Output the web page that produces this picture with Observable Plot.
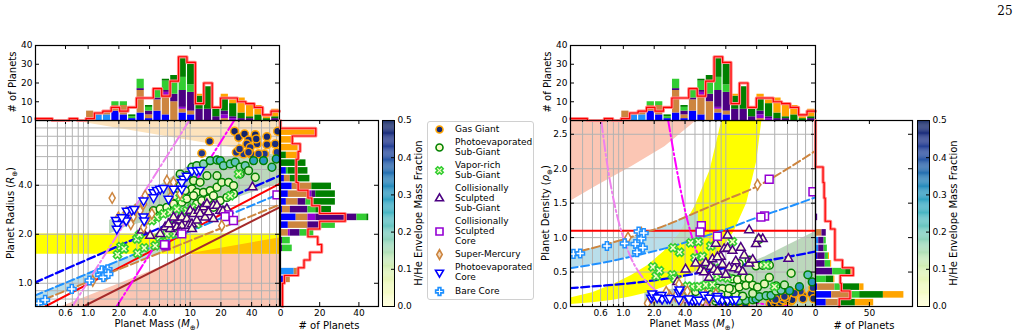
<!DOCTYPE html>
<html><head><meta charset="utf-8">
<script src="https://cdn.jsdelivr.net/npm/d3@7"></script>
<script src="https://cdn.jsdelivr.net/npm/@observablehq/plot@0.6"></script>
<style>
html,body{margin:0;padding:0;background:#fff;}
#root{position:relative;width:1028px;height:336px;overflow:hidden;font-family:"DejaVu Sans",sans-serif;font-size:9px;color:#000;}
#root svg{position:absolute;}
.t{position:absolute;white-space:nowrap;line-height:10px;font-size:9px;}
.big{font-size:10px;}
.rot{transform:translate(-50%,-50%) rotate(-90deg);}
.ctr{transform:translate(-50%,-50%);}
#legend{position:absolute;left:427px;top:121px;width:107px;height:179px;border:1px solid #d0d0d0;border-radius:3px;box-sizing:border-box;background:#fff;}
</style></head><body><div id="root"><div id="legend"></div></div>
<script>
// ---------------- data ----------------
const massDomain = [0.305, 75];
const radiusDomain = [0.72, 10];
const densityDomain = [0, 2.7];
const massTicks = [0.6, 1, 2, 4, 10, 20, 40];
const massTickLabels = ["0.6", "1.0", "2.0", "4.0", "10", "20", "40"];
const radiusTicks = [1, 2, 4, 10];
const radiusTickLabels = ["1.0", "2.0", "4.0", "10"];
const densityTicks = [0, 0.5, 1, 1.5, 2, 2.5];
const densityTickLabels = ["0.0", "0.5", "1.0", "1.5", "2.0", "2.5"];
const massGrid = [0.4,0.5,0.6,0.7,0.8,0.9,1,2,3,4,5,6,7,8,9,10,20,30,40,50,60,70];
const radiusGrid = [0.8,0.9,1,2,3,4,5,6,7,8,9,10];
const countTicksTop = [0, 10, 20, 30, 40];
const countTicksRad = [0, 20, 40];
const countTicksDen = [0, 50];
const fracTicks = [0, 0.1, 0.2, 0.3, 0.4, 0.5];

const categories = ["Gas Giant","Photoevaporated Sub-Giant","Vapor-rich Sub-Giant","Collisionally Sculpted Sub-Giant","Collisionally Sculpted Core","Super-Mercury","Photoevaporated Core","Bare Core"];
const legendLabels = ["Gas Giant","Photoevaporated\nSub-Giant","Vapor-rich\nSub-Giant","Collisionally\nSculpted\nSub-Giant","Collisionally\nSculpted\nCore","Super-Mercury","Photoevaporated\nCore","Bare Core"];
const categoryColors = ["#ffa500","#008000","#32cd32","#4b0082","#9400d3","#cd853f","#0000ff","#1e90ff"];
const stackOrder = ["Photoevaporated Core","Bare Core","Super-Mercury","Collisionally Sculpted Core","Collisionally Sculpted Sub-Giant","Vapor-rich Sub-Giant","Photoevaporated Sub-Giant","Gas Giant"];

// mass histogram (29 log bins across the mass axis)
const massHistPC   = [0,0,0,0,0,0,0,0,0,5,3,1,4,1,5,3,0,4,3,0,0,0,0,0,0,0,0,0,0];
const massHistBC   = [0,0,0,0,0,0,0,3,3,0,0,0,0,0,0,0,0,0,0,0,0,0,0,0,0,0,0,0,0];
const massHistSM   = [0,0,0,0,0,0,5,1,2,3,5,0,12,2,6,10,10,2,2,0,0,0,1,0,0,0,0,0,0];
const massHistCSC  = [0,0,0,0,0,0,0,0,0,0,0,0,0,0,0,2,0,1,0,0,0,0,2,1,0,0,0,0,0];
const massHistCSSG = [0,0,0,0,0,0,0,0,0,0,0,0,1,2,1,1,4,9,10,6,6,2,2,1,1,1,0,0,1];
const massHistVR   = [0,0,0,0,0,0,0,0,0,2,2,1,5,2,4,5,7,7,4,0,0,0,0,0,0,0,0,0,0];
const massHistPSG  = [0,0,0,0,0,0,0,0,0,0,0,1,0,1,1,1,3,10,11,7,12,5,7,7,3,1,3,1,1];
const massHistGG   = [0,0,0,0,0,0,0,0,0,0,0,0,0,0,0,0,0,1,1,1,0,0,2,2,8,6,5,1,4];
const massHistObserved = [1,1,0,0,1,0,1,4,5,7,5,7,12,12,17,13,21,34,31,9,20,7,12,12,10,9,7,3,5];

// radius histogram (24 log bins, listed from the top of the axis)
const radHistPC   = [0,0,0,0,0,0,3,2,6,4,3,1,8,4,0,0,0,0,0,0,2,0,0,0];
const radHistBC   = [0,0,0,0,0,0,0,0,0,0,0,0,0,0,0,0,0,0,0,7,0,0,0,0];
const radHistSM   = [0,0,0,0,0,0,0,3,10,10,6,4,6,10,4,0,0,0,0,2,3,0,0,0];
const radHistCSC  = [0,0,0,0,0,0,0,0,0,2,0,0,4,0,1,0,0,0,0,0,0,0,0,0];
const radHistCSSG = [0,0,0,0,0,0,0,0,0,2,4,9,21,7,5,1,1,0,0,0,0,0,0,0];
const radHistVR   = [0,0,0,0,0,0,1,0,0,0,4,4,5,7,7,4,5,0,0,0,0,0,0,0];
const radHistPSG  = [0,0,0,0,3,13,10,10,10,10,11,8,1,0,0,0,0,0,0,0,0,0,0,0];
const radHistGG   = [0,18,7,9,7,0,0,0,0,0,0,0,0,0,0,0,0,0,0,0,0,0,0,0];
const radHistObserved = [0,18,6,10,9,8,8,8,9,14,16,20,33,20,14,19,21,15,12,9,2,1,1,1];

// density histogram (24 bins, listed from the bottom of the axis)
const denHistPC   = [10,15,2,1,0,1,2,0,0,0,0,0,0,0,0,0,0,0,0,0,0,0,0,0];
const denHistBC   = [0,0,0,0,0,0,0,3,3,0,0,0,0,0,0,0,0,0,0,0,0,0,0,0];
const denHistSM   = [11,19,16,0,0,0,0,0,0,6,0,0,0,0,0,0,0,0,0,0,0,0,0,0];
const denHistCSC  = [0,0,0,0,0,0,0,0,0,0,0,0,0,0,0,0,0,0,0,0,0,0,0,0];
const denHistCSSG = [0,0,0,0,16,8,7,5,5,4,0,2,0,0,0,0,0,0,0,0,0,0,0,0];
const denHistVR   = [3,7,5,9,12,5,3,3,2,0,0,0,0,0,0,0,0,0,0,0,0,0,0,0];
const denHistPSG  = [13,22,18,7,5,0,0,0,0,0,0,0,0,0,0,0,0,0,0,0,0,0,0,0];
const denHistGG   = [17,19,4,1,1,1,1,0,0,0,0,0,0,0,0,0,0,0,0,0,0,0,0,0];
const denHistObserved = [22,32,24,23,35,25,18,18,18,18,14,9,9,9,8,8,7,7,0,0,0,0,0,0];

// planets: [mass (M_earth), radius (R_earth), H/He envelope mass fraction]
const gasGiants = [[15.5,7.45,.46],[13.0,6.29,.44],[27.2,8.59,.48],[29.8,7.88,.47],[34.1,8.26,.48],[37.3,7.59,.46],[43.4,8.19,.48],[45.1,7.18,.46],[44.4,7.71,.47],[35.9,7.18,.45],[38.7,6.84,.45],[39.3,6.23,.44],[33.3,6.23,.44],[37.3,6.38,.45],[56.5,7.11,.46],[68.1,7.18,.46],[71.8,8.59,.48],[56.5,7.96,.47],[53.5,6.23,.44],[70.8,6.38,.44],[46.8,6.23,.44],[28.3,6.38,.45],[30.5,6.69,.45]];
const photoSubGiants = [[7.98,4.69,.12],[9.27,4.58,.1],[10.4,5.16,.15],[11.6,5.28,.15],[13.5,5.41,.18],[15.7,5.67,.2],[18.3,5.72,.22],[19.7,5.67,.25],[21.2,5.28,.2],[24.7,5.41,.2],[27.6,5.54,.22],[30.9,5.16,.15],[34.6,5.28,.2],[41.8,5.67,.28],[52.3,5.67,.3],[63.2,5.16,.22],[69.7,5.8,.3],[10.8,4.27,.08],[12.5,4.17,.06],[14.6,4.58,.1],[18.3,4.58,.1],[10.4,3.8,.05],[11.6,3.62,.04],[13.5,3.62,.05],[15.7,3.71,.06],[18.3,3.89,.06],[20.4,4.17,.08],[23.8,4.17,.07],[26.6,3.98,.06],[30.9,4.69,.1],[37.3,4.92,.12],[43.4,4.48,.08],[11.6,3.07,.02],[13.0,3.22,.02],[15.1,3.3,.03],[16.9,3.45,.03],[19.7,3.22,.02],[22.9,3.37,.03],[26.6,3.54,.04],[4.37,2.79,.03],[5.08,2.86,.03],[5.91,2.93,.03],[6.86,3.07,.03],[8.28,3.15,.03],[9.27,3.3,.04],[10.8,3.45,.04],[7.98,3.98,.06],[8.93,3.71,.05],[7.13,3.45,.04],[13.5,2.79,.02],[16.9,2.93,.02],[21.2,2.79,.02]];
const vaporRich = [[1.94,1.5,.03],[2.09,1.68,.03],[2.25,1.63,.03],[3.0,1.87,.03],[3.19,1.99,.03],[3.54,1.65,.03],[3.05,1.53,.03],[4.54,1.7,.03],[5.0,1.92,.03],[5.4,1.79,.03],[5.91,2.01,.03],[6.37,2.21,.03],[6.86,2.26,.03],[7.98,2.43,.03],[8.28,2.67,.03],[9.27,2.79,.03],[10.4,2.93,.03],[11.6,2.31,.03],[4.71,2.54,.03],[5.48,2.67,.03],[6.37,2.73,.03],[7.4,2.86,.03],[4.21,2.43,.03],[7.13,2.01,.03],[24.7,3.45,.04],[29.8,4.69,.05],[7.98,3.37,.03]];
const collSubGiants = [[3.36,2.11,.01],[4.05,1.96,.01],[5.08,2.01,.01],[5.69,2.21,.01],[6.37,2.16,.01],[7.13,2.31,.01],[7.69,2.43,.01],[8.28,2.54,.01],[8.93,2.31,.01],[9.27,2.48,.01],[10.0,2.79,.01],[10.8,2.67,.01],[12.1,2.79,.01],[13.5,2.93,.01],[14.6,3.07,.01],[16.9,3.0,.01],[18.3,3.0,.01],[7.4,2.21,.01],[8.28,2.26,.01],[9.63,2.26,.01],[10.4,2.31,.01],[11.6,2.43,.01],[12.5,2.67,.01],[14.0,2.54,.01],[15.1,2.73,.01],[16.9,2.48,.01],[19.7,2.79,.01],[22.9,2.86,.01],[20.9,2.77,.01],[40.8,3.89,.01],[6.86,2.54,.01],[6.13,2.31,.01],[10.4,2.16,.01],[7.98,2.06,.01]];
const collCores = [[5.77,1.7],[5.6,1.73],[8.28,2.01],[23.9,2.63],[22.0,2.57],[26.5,2.43],[70.8,3.49]];
const superMercury = [[1.72,3.34],[2.36,2.73],[2.78,2.57],[2.62,2.31],[2.89,2.82],[3.49,3.07],[6.61,3.8],[6.86,4.17],[5.91,4.27],[7.98,3.54],[3.23,2.79],[3.76,2.48],[4.21,2.67],[20.4,2.26],[1.98,2.54],[3.49,2.21],[3.62,3.45],[6.37,3.37],[1.11,1.035],[1.5,1.12]];
const photoCores = [[1.87,2.45],[1.94,2.31],[1.91,2.16],[2.27,2.52],[2.36,2.43],[2.39,2.79],[2.68,2.82],[3.49,2.57],[3.54,2.43],[4.37,3.62],[4.71,3.74],[5.08,3.8],[5.48,3.85],[6.13,3.3],[8.28,3.8],[8.6,4.38],[9.27,4.58],[10.4,4.92],[11.6,4.92],[12.5,4.97],[3.49,3.22],[4.37,3.37],[8.28,4.17],[6.86,3.8],[2.14,2.54],[2.83,2.86]];
const bareCores = [[0.326,0.753],[0.379,0.79],[0.691,0.923],[1.03,1.04],[1.31,1.13],[1.36,1.2],[1.55,1.22],[1.5,1.15],[1.41,1.09],[1.58,1.14]];

// model curves / regions: [mass, radius]
const blueDashedMR = [[0.3,1.01],[75,4.58]];
const dodgerDashedMR = [[0.3,0.84],[75,3.54]];
const peruDashedMR = [[0.3,0.754],[75,3.04]];
const redSolidMR = [[0.38,0.72],[75,4.08]];
const brownSolidMR = [[0.9,0.72],[75,2.93]];
const violetDashDotMR = [[0.7,0.72],[9.8,10]];
const magentaDashDotMR = [[1.9,0.72],[27,10]];
const wheatMass = [0.69, 75], wheatLow = [10, 6.09], wheatHigh = [10, 10];
const salmonMass = [0.556, 10.8, 75], salmonLow = [0.72, 0.72, 0.72], salmonHigh = [0.72, 1.51, 1.51];
const yellowMass = [0.3, 75], yellowLow = [1.51, 1.51], yellowHigh = [2.01, 2.01];
const goldMass = [9.27, 75], goldLow = [1.51, 1.51], goldHigh = [1.51, 1.9];
const lightBlueMass = [0.3, 5.4], lightBlueLow = [0.754, 1.56], lightBlueHigh = [0.84, 1.78];
const greenMass = [1.62, 2.5, 5.4, 9.27, 11.4, 24, 75], greenLow = [2.01, 2.25, 2.51, 2.68, 2.78, 3.22, 4.1], greenHigh = [2.43, 2.85, 4.1, 5.16, 5.5, 6.0, 6.23];

// model curves / regions
const curveMass = [0.3, 0.6, 1.2, 2.5, 5.4, 10, 20, 40, 75];
const blueDashedRho = [0.267, 0.3, 0.339, 0.4, 0.484, 0.56, 0.64, 0.72, 0.797];
const dodgerDashedRho = [0.556, 0.63, 0.725, 0.84, 0.99, 1.12, 1.29, 1.44, 1.585];
const peruDashedRho = [0.764, 0.88, 1.01, 1.17, 1.38, 1.55, 1.74, 2.0, 2.26];
const redSolidRho = [1.1];
const violetMass = [0.61, 0.7, 0.8, 0.9, 1.0, 1.2, 1.4, 1.7, 2.0, 2.5, 3, 4, 6, 10, 20];
const violetRho = [2.69, 2.04, 1.56, 1.23, 1.0, 0.69, 0.51, 0.35, 0.25, 0.16, 0.11, 0.06, 0.03, 0.01, 0.003];
const magentaMass = [2.74, 3.19, 3.99, 5.0, 6.76, 11.5, 20, 40];
const magentaRho = [2.7, 2.13, 1.4, 0.87, 0.46, 0.15, 0.05, 0.013];
const salmonRhoMass = [0.3, 0.565, 1.2, 2.54, 5.2], salmonRhoLow = [1.52, 1.76, 2.03, 2.32, 2.7];
const yellowRhoMass = [0.3, 0.5, 0.8, 1.2, 1.75, 2.5, 3.5, 5, 7, 9.15, 12, 16, 20, 22.5];
const yellowRhoLow = [0.03, 0.055, 0.09, 0.14, 0.2, 0.28, 0.38, 0.5, 0.64, 0.82, 1.08, 1.5, 2.1, 2.7];
const yellowRhoHigh = [0.12, 0.2, 0.32, 0.45, 0.6, 0.8, 1.05, 1.45, 1.97, 2.7, 2.7, 2.7, 2.7, 2.7];
const lightBlueRhoMass = [0.3, 0.6, 1.2, 2.5, 5.4];
const lightBlueRhoLow = [0.556, 0.63, 0.725, 0.84, 0.99];
const lightBlueRhoHigh = [0.764, 0.88, 1.01, 1.17, 1.38];
const greenRhoMass = [1.62, 2.5, 5.4, 11.4, 24, 75], greenRhoLow = [0, 0, 0, 0, 0, 0], greenRhoHigh = [0.2, 0.22, 0.34, 0.53, 0.72, 1.09];
const wheatRhoMass = [10, 20, 40, 75], wheatRhoLow = [0.01, 0.02, 0.04, 0.075], wheatRhoHigh = [0.04, 0.08, 0.17, 0.33];

// ---------------- helpers ----------------
const root = document.getElementById("root");
const plotStyle = {overflow: "visible", background: "transparent", fontFamily: "'DejaVu Sans', sans-serif", fontSize: "9px", color: "#000"};
const ylgnbu = d3.scaleSequential(d3.interpolateYlGnBu).domain([0, 0.5]);
function put(svg, left, top) { svg.style.position = "absolute"; svg.style.left = left + "px"; svg.style.top = top + "px"; root.appendChild(svg); }
function label(text, x, y, cls, extra) { const d = document.createElement("div"); d.className = "t " + cls; d.style.left = x + "px"; d.style.top = y + "px"; d.innerHTML = text; if (extra) Object.assign(d.style, extra); root.appendChild(d); return d; }
const zip = (xs, lo, hi) => xs.map((x, i) => ({x, lo: lo[i], hi: hi[i]}));
const pairs = (xs, ys) => xs.map((x, i) => [x, ys[i]]);
const tickRows = (ticks, labels) => ticks.map((v, i) => ({v, label: labels[i]}));

function polySym(pts) { return {draw(ctx, size) { const r = Math.sqrt(size / Math.PI); pts.forEach(([x, y], i) => i ? ctx.lineTo(x * r, y * r) : ctx.moveTo(x * r, y * r)); ctx.closePath(); }}; }
const symTriUp = polySym([[0,-1.35],[1.17,0.67],[-1.17,0.67]]);
const symTriDown = polySym([[0,1.35],[1.17,-0.67],[-1.17,-0.67]]);
const symThinDiamond = polySym([[0,-1.4],[0.8,0],[0,1.4],[-0.8,0]]);
const pw = 0.42, pa = 1.2;
const plusShape = [[-pw,-pa],[pw,-pa],[pw,-pw],[pa,-pw],[pa,pw],[pw,pw],[pw,pa],[-pw,pa],[-pw,pw],[-pa,pw],[-pa,-pw],[-pw,-pw]];
const symPlus = polySym(plusShape);
const symX = polySym(plusShape.map(([x, y]) => [(x - y) * Math.SQRT1_2, (x + y) * Math.SQRT1_2]));

const scatterSets = [
  {data: gasGiants, symbol: "circle", r: 3.9, stroke: categoryColors[0], legendFill: ylgnbu(0.47)},
  {data: photoSubGiants, symbol: "circle", r: 3.9, stroke: categoryColors[1], legendFill: ylgnbu(0.03)},
  {data: vaporRich, symbol: symX, r: 3.6, stroke: categoryColors[2], legendFill: ylgnbu(0.03)},
  {data: collSubGiants, symbol: symTriUp, r: 3.8, stroke: categoryColors[3], legendFill: "white"},
  {data: collCores, symbol: "square", r: 4.4, stroke: categoryColors[4], fill: "white", legendFill: "white"},
  {data: superMercury, symbol: symThinDiamond, r: 3.8, stroke: categoryColors[5], fill: "white", legendFill: "#f0d9c0"},
  {data: photoCores, symbol: symTriDown, r: 3.8, stroke: categoryColors[6], fill: "white", legendFill: "white"},
  {data: bareCores, symbol: symPlus, r: 3.6, stroke: categoryColors[7], fill: "white", legendFill: "white"}
];

function stackRows(arrays, nBins) {
  const rows = [];
  for (let i = 0; i < nBins; i++) stackOrder.forEach((cat, k) => rows.push({i, cat, n: arrays[k][i]}));
  return rows;
}
const massBins = massHistObserved.length;
const massEdges = d3.range(massBins + 1).map(i => massDomain[0] * Math.pow(massDomain[1] / massDomain[0], i / massBins));
const radBins = radHistObserved.length;
const radEdges = d3.range(radBins + 1).map(i => radiusDomain[1] * Math.pow(radiusDomain[0] / radiusDomain[1], i / radBins));
const denBins = denHistObserved.length;
const denEdges = d3.range(denBins + 1).map(i => densityDomain[0] + (densityDomain[1] - densityDomain[0]) * i / denBins);

const massRows = stackRows([massHistPC, massHistBC, massHistSM, massHistCSC, massHistCSSG, massHistVR, massHistPSG, massHistGG], massBins);
const radRows = stackRows([radHistPC, radHistBC, radHistSM, radHistCSC, radHistCSSG, radHistVR, radHistPSG, radHistGG], radBins);
const denRows = stackRows([denHistPC, denHistBC, denHistSM, denHistCSC, denHistCSSG, denHistVR, denHistPSG, denHistGG], denBins);
const stepH = (edges, counts) => counts.flatMap((c, i) => [[edges[i], c], [edges[i + 1], c]]);
const stepV = (edges, counts) => counts.flatMap((c, i) => [[c, edges[i]], [c, edges[i + 1]]]);
const stackColor = {domain: stackOrder, range: stackOrder.map(c => categoryColors[categories.indexOf(c)])};

const grid = {stroke: "#b3b3b3", strokeOpacity: 1, strokeWidth: 1};
const FH = 186; // frame height of the main panels

// inward tick marks and tick labels drawn with tick/text marks
function xTicksIn(values, frameH, len = 4) {
  return [Plot.tickX(values, {x: d => d, insetTop: frameH - len, stroke: "black"}), Plot.tickX(values, {x: d => d, insetBottom: frameH - len, stroke: "black"})];
}
function yTicksIn(values, frameW, len = 4) {
  return [Plot.tickY(values, {y: d => d, insetRight: frameW - len, stroke: "black"}), Plot.tickY(values, {y: d => d, insetLeft: frameW - len, stroke: "black"})];
}
const xLabels = rows => Plot.text(rows, {x: "v", text: "label", frameAnchor: "bottom", dy: 3, lineAnchor: "top", fontSize: 9, fill: "black"});
const yLabels = rows => Plot.text(rows, {y: "v", text: "label", frameAnchor: "left", dx: -3, textAnchor: "end", fontSize: 9, fill: "black"});

// ---------------- main panels ----------------
function mainPanel(cfg) {
  return Plot.plot({
    width: 35 + cfg.w + 6, height: 6 + FH + 24,
    marginLeft: 35, marginRight: 6, marginTop: 6, marginBottom: 24,
    style: plotStyle,
    x: {type: "log", domain: massDomain, axis: null},
    y: {...cfg.y, axis: null},
    color: {type: "linear", scheme: "YlGnBu", domain: [0, 0.5]},
    marks: [
      ...cfg.areas,
      Plot.gridX(massGrid, grid),
      Plot.gridY(cfg.yGrid, grid),
      ...cfg.lines,
      ...scatterSets.map(s => Plot.dot(s.data, {x: d => d[0], y: cfg.yOf, symbol: s.symbol, r: s.r, fill: s.fill ?? (d => d[2]), stroke: s.stroke, strokeWidth: 1.5, clip: true})),
      Plot.frame({stroke: "black", strokeWidth: 1.2}),
      ...xTicksIn(massTicks, FH),
      ...xTicksIn(massGrid.filter(v => !massTicks.includes(v)), FH, 2),
      ...yTicksIn(cfg.yTicks, cfg.w),
      xLabels(tickRows(massTicks, massTickLabels)),
      yLabels(tickRows(cfg.yTicks, cfg.yTickLabels))
    ]
  });
}
const dash = "8,3.5", dashDot = "11,3,2,3";
const areaMark = (d, fill, op = 1) => Plot.areaY(d, {x: "x", y1: "lo", y2: "hi", fill, fillOpacity: op, clip: true});
const lineMark = (d, stroke, extra = {}) => Plot.line(d, {x: p => p[0], y: p => p[1], stroke, strokeWidth: 2, clip: true, ...extra});

const leftMain = mainPanel({
  w: 244,
  y: {type: "log", domain: radiusDomain},
  yOf: d => d[1],
  yGrid: radiusGrid, yTicks: radiusTicks, yTickLabels: radiusTickLabels,
  areas: [
    areaMark(zip(wheatMass, wheatLow, wheatHigh), "#fde3bd"),
    areaMark(zip(salmonMass, salmonLow, salmonHigh), "#fbc6b4"),
    areaMark(zip(yellowMass, yellowLow, yellowHigh), "#ffff00"),
    areaMark(zip(goldMass, goldLow, goldHigh), "#ffc000"),
    areaMark(zip(lightBlueMass, lightBlueLow, lightBlueHigh), "#add8e6", 0.85),
    areaMark(zip(greenMass, greenLow, greenHigh), "#8fbc8f", 0.6)
  ],
  lines: [
    lineMark(brownSolidMR, "#a52a2a"),
    lineMark(redSolidMR, "#ff0000"),
    lineMark(peruDashedMR, "#cd853f", {strokeDasharray: dash}),
    lineMark(dodgerDashedMR, "#1e90ff", {strokeDasharray: dash}),
    lineMark(blueDashedMR, "#0000ff", {strokeDasharray: dash, strokeWidth: 2.3}),
    lineMark(violetDashDotMR, "#ee82ee", {strokeDasharray: dashDot}),
    lineMark(magentaDashDotMR, "#ff00ff", {strokeDasharray: dashDot})
  ]
});
put(leftMain, 0, 114);

const rightMain = mainPanel({
  w: 245,
  y: {type: "linear", domain: densityDomain},
  yOf: d => d[0] / Math.pow(d[1], 3),
  yGrid: densityTicks, yTicks: densityTicks, yTickLabels: densityTickLabels,
  areas: [
    areaMark(zip(wheatRhoMass, wheatRhoLow, wheatRhoHigh), "#fde3bd"),
    areaMark(zip(salmonRhoMass, salmonRhoLow, salmonRhoMass.map(() => densityDomain[1])), "#fbc6b4"),
    areaMark(zip(yellowRhoMass, yellowRhoLow, yellowRhoHigh), "#ffff00"),
    areaMark(zip(lightBlueRhoMass, lightBlueRhoLow, lightBlueRhoHigh), "#add8e6", 0.85),
    areaMark(zip(greenRhoMass, greenRhoLow, greenRhoHigh), "#8fbc8f", 0.6)
  ],
  lines: [
    Plot.ruleY(redSolidRho, {stroke: "#ff0000", strokeWidth: 2, clip: true}),
    lineMark(pairs(curveMass, peruDashedRho), "#cd853f", {strokeDasharray: dash, curve: "monotone-x"}),
    lineMark(pairs(curveMass, dodgerDashedRho), "#1e90ff", {strokeDasharray: dash, curve: "monotone-x"}),
    lineMark(pairs(curveMass, blueDashedRho), "#0000ff", {strokeDasharray: dash, strokeWidth: 2.3, curve: "monotone-x"}),
    lineMark(pairs(violetMass, violetRho), "#ee82ee", {strokeDasharray: dashDot, curve: "monotone-x"}),
    lineMark(pairs(magentaMass, magentaRho), "#ff00ff", {strokeDasharray: dashDot, curve: "monotone-x"})
  ]
});
put(rightMain, 535, 114);

// ---------------- top histograms ----------------
function topHist(w, showZero) {
  const labelTicks = showZero ? countTicksTop : countTicksTop.filter(t => t !== 0);
  return Plot.plot({
    width: 35 + w + 6, height: 5 + 75 + 2,
    marginLeft: 35, marginRight: 6, marginTop: 5, marginBottom: 2,
    style: plotStyle,
    x: {type: "log", domain: massDomain, axis: null},
    y: {domain: [0, 40], axis: null},
    color: stackColor,
    marks: [
      Plot.rectY(massRows, {x1: d => massEdges[d.i], x2: d => massEdges[d.i + 1], y: "n", fill: "cat", insetLeft: 0.6, insetRight: 0.6}),
      Plot.line(stepH(massEdges, massHistObserved), {x: p => p[0], y: p => p[1], stroke: "#ff8a8a", strokeWidth: 3.2}),
      Plot.line(stepH(massEdges, massHistObserved), {x: p => p[0], y: p => p[1], stroke: "#ff0000", strokeWidth: 1.2}),
      Plot.frame({stroke: "black", strokeWidth: 1.2}),
      ...yTicksIn(countTicksTop, w),
      Plot.tickX(massTicks, {x: d => d, insetBottom: 75 - 4, stroke: "black"}),
      yLabels(tickRows(labelTicks, labelTicks.map(String)))
    ]
  });
}
put(topHist(244, false), 0, 40);
put(topHist(245, true), 535, 40);

// ---------------- side histograms ----------------
function sideHist(cfg) {
  return Plot.plot({
    width: 4 + cfg.w + 6, height: 6 + FH + 24,
    marginLeft: 4, marginRight: 6, marginTop: 6, marginBottom: 24,
    style: plotStyle,
    x: {domain: cfg.xDomain, axis: null},
    y: {...cfg.y, axis: null},
    color: stackColor,
    marks: [
      Plot.rectX(cfg.rows, {y1: d => cfg.edges[d.i], y2: d => cfg.edges[d.i + 1], x: "n", fill: "cat", insetTop: 0.6, insetBottom: 0.6}),
      Plot.line(stepV(cfg.edges, cfg.observed), {x: p => p[0], y: p => p[1], stroke: "#ff8a8a", strokeWidth: 3.2}),
      Plot.line(stepV(cfg.edges, cfg.observed), {x: p => p[0], y: p => p[1], stroke: "#ff0000", strokeWidth: 1.2}),
      Plot.frame({stroke: "black", strokeWidth: 1.2}),
      ...xTicksIn(cfg.xTicks, FH),
      Plot.tickY(cfg.yTicks, {y: d => d, insetLeft: cfg.w - 4, stroke: "black"}),
      xLabels(tickRows(cfg.xTicks, cfg.xTicks.map(String)))
    ]
  });
}
put(sideHist({w: 98, xDomain: [0, 50], y: {type: "log", domain: radiusDomain}, rows: radRows, edges: radEdges, observed: radHistObserved, xTicks: countTicksRad, yTicks: radiusTicks}), 276, 114);
put(sideHist({w: 97, xDomain: [0, 90], y: {type: "linear", domain: densityDomain}, rows: denRows, edges: denEdges, observed: denHistObserved, xTicks: countTicksDen, yTicks: densityTicks}), 811, 114);

// ---------------- colorbars ----------------
const cbSteps = d3.range(0, 0.5, 0.0025);
function colorbar() {
  return Plot.plot({
    width: 2 + 12 + 30, height: 6 + FH + 6,
    marginLeft: 2, marginRight: 30, marginTop: 6, marginBottom: 6,
    style: plotStyle,
    y: {domain: [0, 0.5], axis: null},
    color: {type: "linear", scheme: "YlGnBu", domain: [0, 0.5]},
    marks: [
      Plot.rectY(cbSteps, {y1: d => d, y2: d => d + 0.0026, fill: d => d}),
      Plot.frame({stroke: "black", strokeWidth: 1}),
      Plot.tickY(fracTicks, {y: d => d, insetLeft: 12 - 3, stroke: "black"}),
      Plot.text(fracTicks, {y: d => d, text: d3.format(".1f"), frameAnchor: "right", dx: 3, textAnchor: "start", fontSize: 9, fill: "black"})
    ]
  });
}
put(colorbar(), 380, 114);
put(colorbar(), 915, 114);

// ---------------- legend ----------------
const legendTextY = [129, 142.3, 165, 188.3, 221, 254.3, 266.7, 290.7];
const legendMarkY = [129, 147, 170, 198, 231, 254, 272, 291];
scatterSets.forEach((s, k) => {
  const sw = Plot.plot({width: 14, height: 14, margin: 0, style: plotStyle,
    marks: [Plot.dot([0], {frameAnchor: "middle", symbol: s.symbol, r: s.r * 0.9, fill: s.legendFill, stroke: s.stroke, strokeWidth: 1.6})]});
  put(sw, 439 - 7, legendMarkY[k] - 7);
  label(legendLabels[k].replace(/\n/g, "<br>"), 455, legendTextY[k] - 5, "");
});

// ---------------- titles ----------------
const sub = s => "<sub style='font-size:7px'>" + s + "</sub>";
label("# of Planets", 13, 82, "big rot");
label("Planet Radius (<i>R</i>" + sub("⊕") + ")", 13, 213, "big rot");
label("Planet Mass (<i>M</i>" + sub("⊕") + ")", 157, 326, "big ctr");
label("# of Planets", 329, 326, "big ctr");
label("H/He Envelope Mass Fraction", 419, 213, "big rot");
label("# of Planets", 548, 82, "big rot");
label("Planet Density (<i>ρ</i>" + sub("⊕") + ")", 548, 213, "big rot");
label("Planet Mass (<i>M</i>" + sub("⊕") + ")", 692, 326, "big ctr");
label("# of Planets", 864, 326, "big ctr");
label("H/He Envelope Mass Fraction", 954, 213, "big rot");
label("25", 1005, 11, "ctr", {fontFamily: "'DejaVu Serif', serif", fontSize: "12px"});
</script></body></html>
